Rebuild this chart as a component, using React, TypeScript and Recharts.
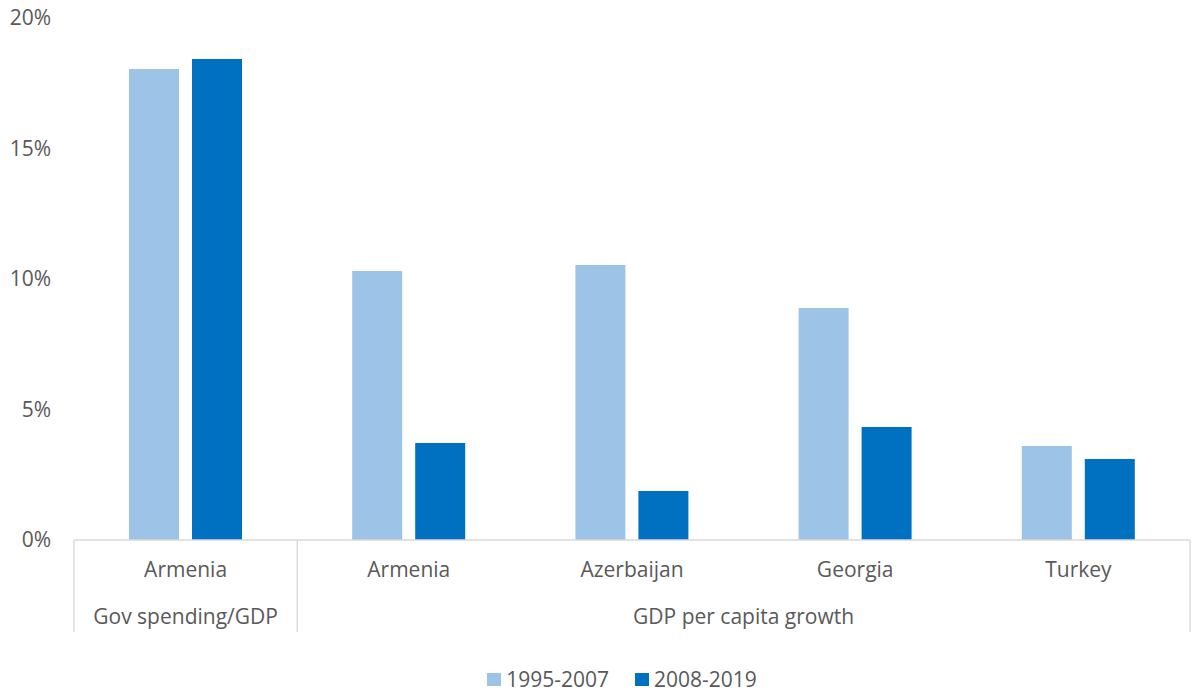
import { BarChart, Bar, XAxis, YAxis, Legend } from 'recharts'

const countries = ['Armenia', 'Armenia', 'Azerbaijan', 'Georgia', 'Turkey']
const groupOf = [0, 1, 1, 1, 1]
const groups = ['Gov spending/GDP', 'GDP per capita growth']
const early = [18.05, 10.31, 10.54, 8.89, 3.6]
const late = [18.43, 3.72, 1.88, 4.33, 3.1]
const yTicks = [0, 5, 10, 15, 20]

const data = countries.map((c, i) => ({
  country: c,
  group: groupOf[i],
  early: early[i],
  late: late[i],
}))

const TEXT = '#595959'
const LINE = '#D9D9D9'
const LIGHT = '#9DC3E6'
const DARK = '#0070C0'
const FS = 21

const W = 1194
const H = 696
const M = { top: 18, right: 4, left: 14, bottom: 0 }
const Y_W = 60
const band = (W - M.left - M.right - Y_W) / countries.length

function CategoryTick(props: any) {
  const { x, y, payload } = props
  const i = payload.index
  const g = groupOf[i]
  const isStart = i === 0 || groupOf[i - 1] !== g
  const count = groupOf.filter((v) => v === g).length
  const left = x - band / 2
  return (
    <g>
      <text x={x} y={y + 37} textAnchor="middle" fill={TEXT} fontSize={FS}>
        {payload.value}
      </text>
      {isStart && (
        <>
          <line x1={left} y1={y} x2={left} y2={y + 92} stroke={LINE} strokeWidth={1.3} />
          <text x={left + (count * band) / 2} y={y + 84} textAnchor="middle" fill={TEXT} fontSize={FS}>
            {groups[g]}
          </text>
        </>
      )}
      {i === countries.length - 1 && (
        <line x1={x + band / 2} y1={y} x2={x + band / 2} y2={y + 92} stroke={LINE} strokeWidth={1.3} />
      )}
    </g>
  )
}

function LegendContent(props: any) {
  const items = props.payload || []
  return (
    <div style={{ height: 64, display: 'flex', justifyContent: 'center', alignItems: 'flex-end', paddingLeft: 40 }}>
      <div style={{ display: 'flex', gap: 26, paddingBottom: 3 }}>
        {items.map((it: any) => (
          <div key={it.value} style={{ display: 'flex', alignItems: 'center', gap: 5 }}>
            <span style={{ width: 14, height: 13, background: it.color, display: 'inline-block' }} />
            <span style={{ color: TEXT, fontSize: FS }}>{it.value}</span>
          </div>
        ))}
      </div>
    </div>
  )
}

export default function App() {
  return (
    <div style={{ position: 'absolute', left: 0, top: 0, width: W, height: H, background: '#fff', fontFamily: '"Open Sans", sans-serif' }}>
      <BarChart width={W} height={H} data={data} margin={M} barGap={13} barSize={50}>
        <YAxis
          width={Y_W}
          domain={[0, 20]}
          ticks={yTicks}
          tickFormatter={(v) => `${v}%`}
          axisLine={false}
          tickLine={false}
          tickMargin={17}
          tick={{ fill: TEXT, fontSize: FS }}
        />
        <XAxis
          dataKey="country"
          height={92}
          interval={0}
          tickSize={0}
          tickMargin={0}
          axisLine={{ stroke: LINE, strokeWidth: 1.3 }}
          tickLine={false}
          tick={<CategoryTick />}
        />
        <Legend verticalAlign="bottom" content={<LegendContent />} />
        <Bar dataKey="early" name="1995-2007" fill={LIGHT} isAnimationActive={false} />
        <Bar dataKey="late" name="2008-2019" fill={DARK} isAnimationActive={false} />
      </BarChart>
    </div>
  )
}
